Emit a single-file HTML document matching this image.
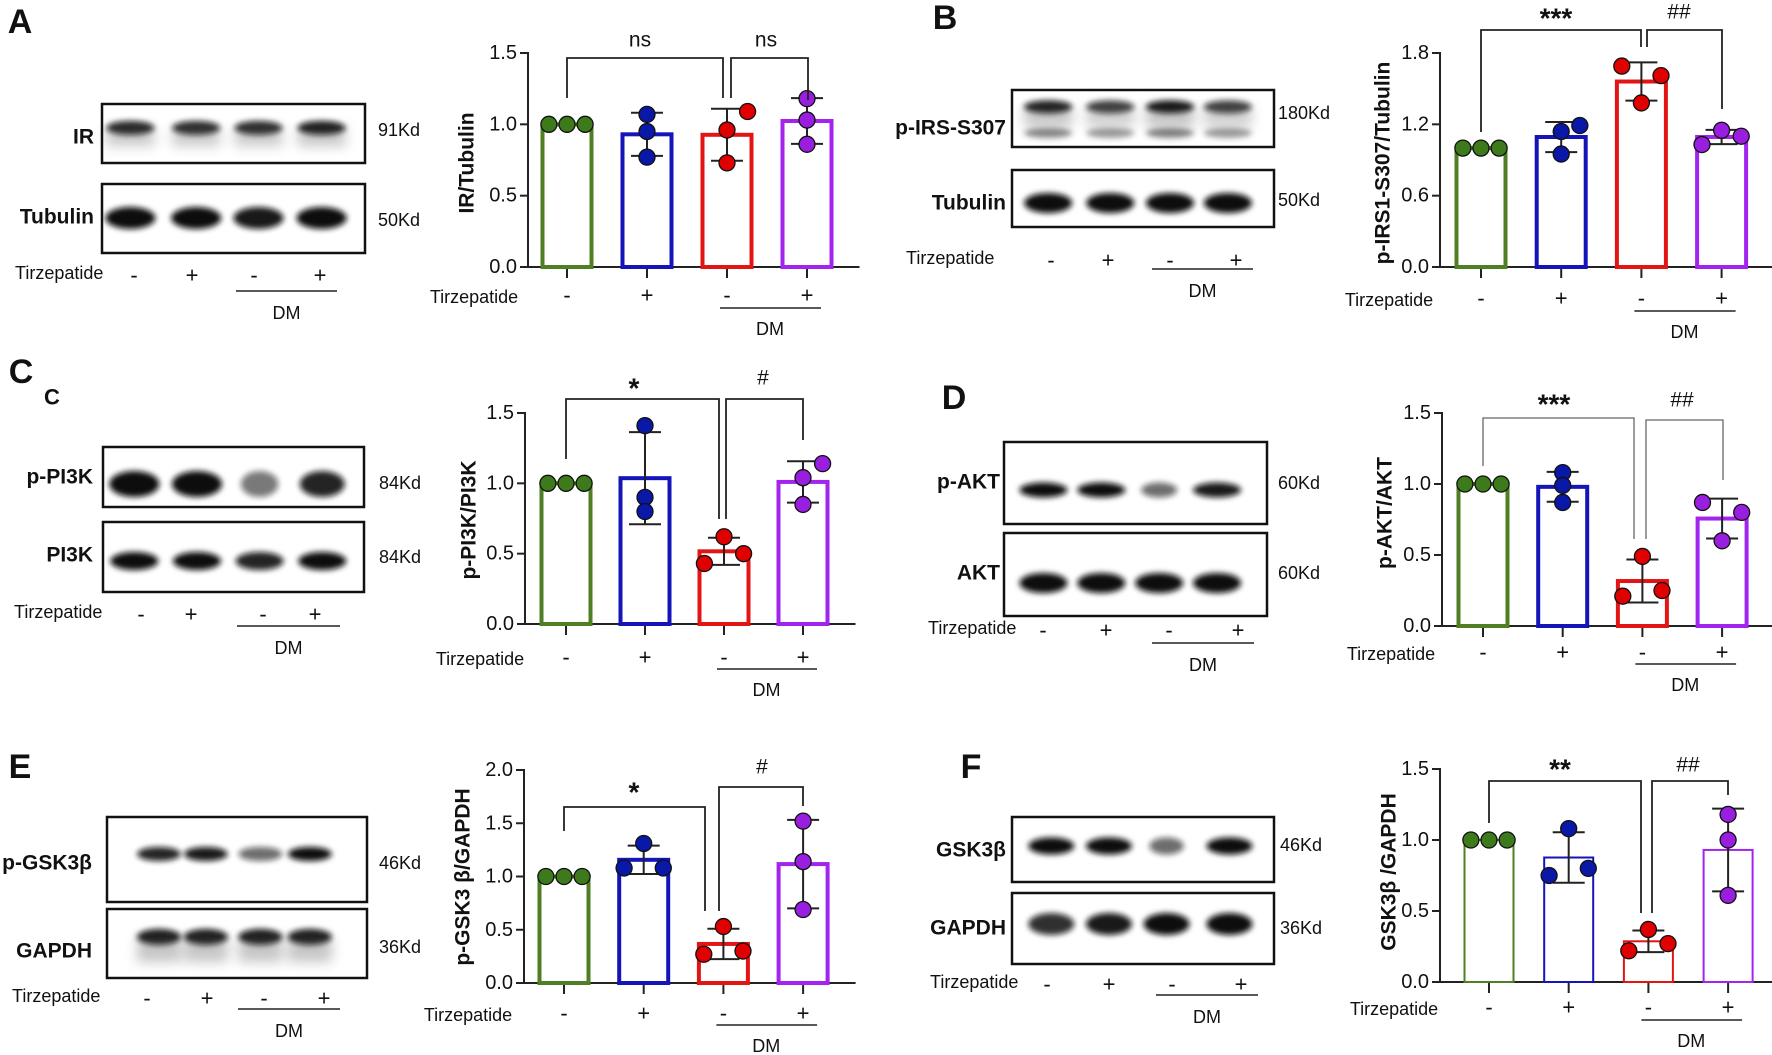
<!DOCTYPE html>
<html><head><meta charset="utf-8">
<style>
html,body{margin:0;padding:0;background:#fff;}
svg{display:block;}
text{font-family:"Liberation Sans Narrow","Liberation Sans",sans-serif;fill:#111;}
.b{font-family:"Liberation Sans",sans-serif;font-weight:bold;}
</style></head>
<body>
<svg id="fig" width="1772" height="1055" viewBox="0 0 1772 1055" xmlns="http://www.w3.org/2000/svg">
<defs>
<filter id="blur" x="-50%" y="-100%" width="200%" height="300%"><feGaussianBlur stdDeviation="3"/></filter>
<filter id="blur2" x="-50%" y="-100%" width="200%" height="300%"><feGaussianBlur stdDeviation="6"/></filter>
</defs>
</svg>
<script>
// ---- data ----
const groups = ['Control', 'Tirzepatide', 'DM', 'DM+Tirzepatide'];
const tirzSigns = ['-', '+', '-', '+'];
const valuesA = [[1,1,1],[1.07,0.95,0.77],[1.09,0.96,0.73],[1.18,1.03,0.86]];
const valuesB = [[1,1,1],[1.14,1.19,0.95],[1.69,1.61,1.38],[1.03,1.15,1.10]];
const valuesC = [[1,1,1],[1.41,0.90,0.80],[0.62,0.50,0.43],[1.14,1.04,0.85]];
const valuesD = [[1,1,1],[1.08,0.99,0.87],[0.49,0.21,0.25],[0.87,0.80,0.60]];
const valuesE = [[1,1,1],[1.31,1.08,1.08],[0.53,0.27,0.30],[1.52,1.14,0.69]];
const valuesF = [[1,1,1],[1.08,0.75,0.80],[0.37,0.22,0.27],[1.18,1.00,0.61]];
const ticksA = [0, 0.5, 1.0, 1.5];
const ticksB = [0, 0.6, 1.2, 1.8];
const ticksC = [0, 0.5, 1.0, 1.5];
const ticksD = [0, 0.5, 1.0, 1.5];
const ticksE = [0, 0.5, 1.0, 1.5, 2.0];
const ticksF = [0, 0.5, 1.0, 1.5];

const NS = 'http://www.w3.org/2000/svg';
const svg = document.getElementById('fig');
const barColors = ['#4f7f22', '#1414b8', '#e31414', '#a224ee'];
const dotColors = ['#3d7a1c', '#0a18a8', '#e00000', '#9a1ee0'];
const jitterUnits = [-0.37, 0, 0.37];

function el(tag, attrs, parent) {
  const e = document.createElementNS(NS, tag);
  for (const k in attrs) e.setAttribute(k, attrs[k]);
  (parent || svg).appendChild(e);
  return e;
}
function txt(str, x, y, size, anchor, cls, parent) {
  const t = el('text', {x: x, y: y, 'font-size': size, 'text-anchor': anchor || 'middle', 'dominant-baseline': 'central'}, parent);
  if (cls) t.setAttribute('class', cls);
  t.textContent = str;
  return t;
}

function drawChart(p) {
  const g = el('g', {});
  
  
  const vals = p.values, ticks = p.ticks;
  const yMax = ticks[ticks.length - 1];
  const yS = v => p.y0 - (p.y0 - p.yTop) * v / yMax;
  const xS = i => p.x0 + i * p.step;
  const bw = p.barW;
  const ya = el('line', {x1: p.axisX, y1: p.yTop - 1, x2: p.axisX, y2: p.y0, stroke: '#222', 'stroke-width': 2}, g);
  
  
  const xa = el('line', {x1: p.axisX, y1: p.y0, x2: xS(3) + bw / 2 + 28, y2: p.y0, stroke: '#222', 'stroke-width': 2}, g);
  
  
  ticks.forEach(t => {
    el('line', {x1: p.axisX - 8, y1: yS(t), x2: p.axisX, y2: yS(t), stroke: '#222', 'stroke-width': 2}, g);
    const tl = txt(t.toFixed(1), p.axisX - 11, yS(t), 20, 'end', null, g);
    
    
  });
  const yl = txt(p.ylabel, 0, 0, 21, 'middle', 'b', g);
  yl.setAttribute('transform', 'translate(' + p.ylabelX + ',' + p.ylabelY + ') rotate(-90)');
  
  
  vals.forEach((arr, i) => {
    const mean = arr.reduce((a, b) => a + b, 0) / arr.length;
    const sd = Math.sqrt(arr.reduce((a, b) => a + (b - mean) * (b - mean), 0) / (arr.length - 1));
    const cx = xS(i);
    el('line', {x1: cx, y1: p.y0, x2: cx, y2: p.y0 + 11, stroke: '#222', 'stroke-width': 2}, g);
    const bar = el('rect', {x: cx - bw / 2, y: yS(mean), width: bw, height: p.y0 - yS(mean), fill: '#fff', stroke: barColors[i], 'stroke-width': p.sw}, g);
    
    
    if (sd > 0.001) {
      const eb = el('path', {d: 'M' + cx + ' ' + yS(mean - sd) + 'V' + yS(mean + sd) + 'M' + (cx - 16) + ' ' + yS(mean + sd) + 'H' + (cx + 16) + 'M' + (cx - 16) + ' ' + yS(mean - sd) + 'H' + (cx + 16), stroke: '#222', 'stroke-width': 2, fill: 'none'}, g);
      
      
    }
    arr.forEach((v, k) => {
      const j = p.jitter[i] ? p.jitter[i][k] : jitterUnits[k];
      const d = el('circle', {cx: cx + j * bw, cy: yS(v), r: 8, fill: dotColors[i], stroke: '#111', 'stroke-width': 1.3}, g);
      
      
    });
    const s = txt(tirzSigns[i], cx, p.signY, 22, 'middle', null, g);
    
    
  });
  const tz = txt('Tirzepatide', p.tirzX, p.signY + 2, 18, 'middle', null, g);
  
  
  el('line', {x1: xS(2) - 7, y1: p.dmLineY, x2: xS(3) + 14, y2: p.dmLineY, stroke: '#222', 'stroke-width': 1.6}, g);
  const dm = txt('DM', (xS(2) + xS(3)) / 2 + 3, p.dmLineY + 21, 18, 'middle', null, g);
  
  
  p.brackets.forEach(b => {
    const br = el('path', {d: 'M' + b[0] + ' ' + b[2] + 'V' + b[1] + 'H' + b[3] + 'V' + b[4], fill: 'none', stroke: p.brColor, 'stroke-width': p.brW}, g);
    
    
    const isStar = b[5].indexOf('*') >= 0;
    const st = txt(b[5], b[6], b[7] + (isStar ? 4 : 0), isStar ? 28 : 21, 'middle', isStar ? 'b' : null, g);
    
    
  });
}

function drawBlot(b) {
  const g = el('g', {});
  
  
  b.rows.forEach((r, ri) => {
    const w = b.x2 - b.x1;
    const lanes = b.lanes.map(f => b.x1 + f * w);
    r.bands.forEach((inten, li) => {
      const bw = r.bw * (r.wscale ? r.wscale[li] : 1);
      el('ellipse', {cx: lanes[li], cy: r.by, rx: bw / 2, ry: r.bh / 2, fill: '#0c0c0c', opacity: inten, filter: 'url(#blur)'}, g);
      if (r.smear) el('rect', {x: lanes[li] - bw / 2, y: r.by, width: bw, height: r.smear, fill: '#555', opacity: 0.35 * inten, filter: 'url(#blur2)'}, g);
      if (r.second) el('ellipse', {cx: lanes[li], cy: r.second, rx: bw / 2, ry: 5, fill: '#333', opacity: 0.6 * inten, filter: 'url(#blur)'}, g);
    });
    const box = el('rect', {x: b.x1, y: r.y1, width: w, height: r.y2 - r.y1, fill: 'none', stroke: '#111', 'stroke-width': 2.5}, g);
    
    
    const lab = txt(r.label, b.labelX, r.ly, 21, 'end', 'b', g);
    
    
    const kd = txt(r.kd, b.kdX, r.ky, 18, 'start', null, g);
    
    
  });
  const tz = txt('Tirzepatide', b.tirzX, b.tirzY, 18, 'start', null, g);
  
  
  b.signX.forEach((x, i) => {
    const s = txt(tirzSigns[i], x, b.tirzY + 2, 22, 'middle', null, g);
    
    
  });
  el('line', {x1: b.dm[0], y1: b.dm[2], x2: b.dm[1], y2: b.dm[2], stroke: '#222', 'stroke-width': 1.6}, g);
  const dm = txt('DM', (b.dm[0] + b.dm[1]) / 2, b.dm[2] + 22, 18, 'middle', null, g);
  
  
  const pl = txt(b.letter, b.letterX, b.letterY, 34, 'middle', 'b', g);
  
  
}

// ---- panel A ----
drawBlot({id:'a', letter:'A', letterX:20, letterY:22, x1:102, x2:365, lanes:[.108,.358,.595,.835], labelX:94, kdX:378,
  rows:[{label:'IR', ly:137, kd:'91Kd', ky:130, y1:104, y2:163, by:128, bh:14, bw:48, bands:[.9,.88,.88,.95], smear:18},
        {label:'Tubulin', ly:217, kd:'50Kd', ky:220, y1:184, y2:253, by:218, bh:22, bw:50, bands:[1,1,.95,1]}],
  tirzX:15, tirzY:273, signX:[134,192,254,320], dm:[236,337,291]});
drawChart({id:'a', values:valuesA, ticks:ticksA, axisX:528, y0:267, yTop:53, x0:567, step:80, barW:49, sw:4,
  ylabel:'IR/Tubulin', ylabelX:467, ylabelY:163, signY:295, tirzX:474, dmLineY:308,
  jitter:[null,[0,0,0],[0.42,0,0],[0,0,0]], brColor:'#222', brW:1.8,
  brackets:[[567,58,98,723,98,'ns',640,40],[731,58,98,808,100,'ns',766,40]]});

// ---- panel B ----
drawBlot({id:'b', letter:'B', letterX:945, letterY:18, x1:1012, x2:1274, lanes:[.138,.375,.603,.824], labelX:1006, kdX:1278,
  rows:[{label:'p-IRS-S307', ly:128, kd:'180Kd', ky:113, y1:90, y2:147, by:107, bh:13, bw:48, bands:[.95,.8,1,.8], smear:20, second:133},
        {label:'Tubulin', ly:203, kd:'50Kd', ky:200, y1:170, y2:227, by:203, bh:20, bw:48, bands:[1,1,1,1]}],
  tirzX:906, tirzY:258, signX:[1051,1108,1170,1236], dm:[1152,1253,269]});
drawChart({id:'b', values:valuesB, ticks:ticksB, axisX:1440, y0:267, yTop:53, x0:1481, step:80.2, barW:49, sw:4,
  ylabel:'p-IRS1-S307/Tubulin', ylabelX:1383, ylabelY:163, signY:298, tirzX:1389, dmLineY:311,
  jitter:[null,[0,0.38,0],[-0.4,0.4,0],[-0.4,0,0.4]], brColor:'#222', brW:1.8,
  brackets:[[1481,30,132,1641,47,'***',1556,14],[1647,30,47,1722,109,'##',1679,12]]});

// ---- panel C ----
drawBlot({id:'c', letter:'C', letterX:21, letterY:372, x1:103, x2:364, lanes:[.12,.36,.6,.84], labelX:93, kdX:379,
  rows:[{label:'p-PI3K', ly:477, kd:'84Kd', ky:483, y1:447, y2:507, by:484, bh:26, bw:50, bands:[1,1,.55,.9], wscale:[1,1,.75,.9]},
        {label:'PI3K', ly:555, kd:'84Kd', ky:557, y1:522, y2:592, by:561, bh:18, bw:48, bands:[1,1,.9,1]}],
  tirzX:14, tirzY:612, signX:[141,191,263,315], dm:[237,340,626]});
const subC = txt('C', 52, 397, 22, 'middle', 'b');


drawChart({id:'c', values:valuesC, ticks:ticksC, axisX:525, y0:624, yTop:413, x0:566, step:79, barW:49, sw:4,
  ylabel:'p-PI3K/PI3K', ylabelX:469, ylabelY:520, signY:657, tirzX:480, dmLineY:669,
  jitter:[null,[0,0,0],[0,0.4,-0.4],[0.4,0,0]], brColor:'#222', brW:1.8,
  brackets:[[566,399,459,719,519,'*',634,384],[726,399,519,803,440,'#',763,378]]});

// ---- panel D ----
drawBlot({id:'d', letter:'D', letterX:954, letterY:398, x1:1004, x2:1267, lanes:[.15,.37,.59,.81], labelX:1000, kdX:1278,
  rows:[{label:'p-AKT', ly:482, kd:'60Kd', ky:483, y1:442, y2:524, by:490, bh:15, bw:48, bands:[1,1,.6,.95], wscale:[1,1,.75,1]},
        {label:'AKT', ly:573, kd:'60Kd', ky:573, y1:533, y2:616, by:583, bh:20, bw:48, bands:[1,1,1,1]}],
  tirzX:928, tirzY:628, signX:[1043,1106,1169,1238], dm:[1152,1254,643]});
drawChart({id:'d', values:valuesD, ticks:ticksD, axisX:1442, y0:626, yTop:413, x0:1483, step:79.7, barW:49, sw:4,
  ylabel:'p-AKT/AKT', ylabelX:1385, ylabelY:513, signY:652, tirzX:1391, dmLineY:664,
  jitter:[null,[0,0,0],[0,-0.4,0.4],[-0.4,0.4,0]], brColor:'#666', brW:1.3,
  brackets:[[1483,418,466,1634,539,'***',1554,400],[1646,420,539,1723,480,'##',1682,400]]});

// ---- panel E ----
drawBlot({id:'e', letter:'E', letterX:20, letterY:767, x1:107, x2:367, lanes:[.2,.38,.59,.78], labelX:92, kdX:379,
  rows:[{label:'p-GSK3β', ly:863, kd:'46Kd', ky:863, y1:817, y2:902, by:854, bh:14, bw:44, bands:[.9,.95,.6,1]},
        {label:'GAPDH', ly:951, kd:'36Kd', ky:947, y1:909, y2:978, by:937, bh:16, bw:44, bands:[.95,.95,.95,.95], smear:25}],
  tirzX:12, tirzY:996, signX:[147,207,264,324], dm:[238,340,1009]});
drawChart({id:'e', values:valuesE, ticks:ticksE, axisX:524, y0:983, yTop:770, x0:564, step:79.7, barW:49, sw:4,
  ylabel:'p-GSK3 β/GAPDH', ylabelX:463, ylabelY:877, signY:1013, tirzX:468, dmLineY:1025,
  jitter:[null,[0,-0.4,0.4],[0,-0.4,0.4],[0,0,0]], brColor:'#222', brW:1.8,
  brackets:[[564,807,831,705,911,'*',634,788],[719,787,911,803,806,'#',762,767]]});

// ---- panel F ----
drawBlot({id:'f', letter:'F', letterX:971, letterY:767, x1:1012, x2:1274, lanes:[.15,.37,.59,.83], labelX:1006, kdX:1280,
  rows:[{label:'GSK3β', ly:850, kd:'46Kd', ky:845, y1:817, y2:882, by:846, bh:17, bw:46, bands:[1,1,.6,1], wscale:[1,1,.75,1]},
        {label:'GAPDH', ly:928, kd:'36Kd', ky:928, y1:893, y2:964, by:924, bh:22, bw:46, bands:[.85,.95,1,1]}],
  tirzX:930, tirzY:982, signX:[1047,1109,1172,1241], dm:[1156,1258,995]});
drawChart({id:'f', values:valuesF, ticks:ticksF, axisX:1440, y0:982, yTop:769, x0:1489, step:79.7, barW:49, sw:2,
  ylabel:'GSK3β /GAPDH', ylabelX:1389, ylabelY:872, signY:1007, tirzX:1394, dmLineY:1020,
  jitter:[null,[0,-0.4,0.4],[0,-0.4,0.4],[0,0,0]], brColor:'#222', brW:1.8,
  brackets:[[1489,781,823,1641,913,'**',1560,765],[1652,781,913,1728,795,'##',1688,765]]});
</script>
</body></html>
